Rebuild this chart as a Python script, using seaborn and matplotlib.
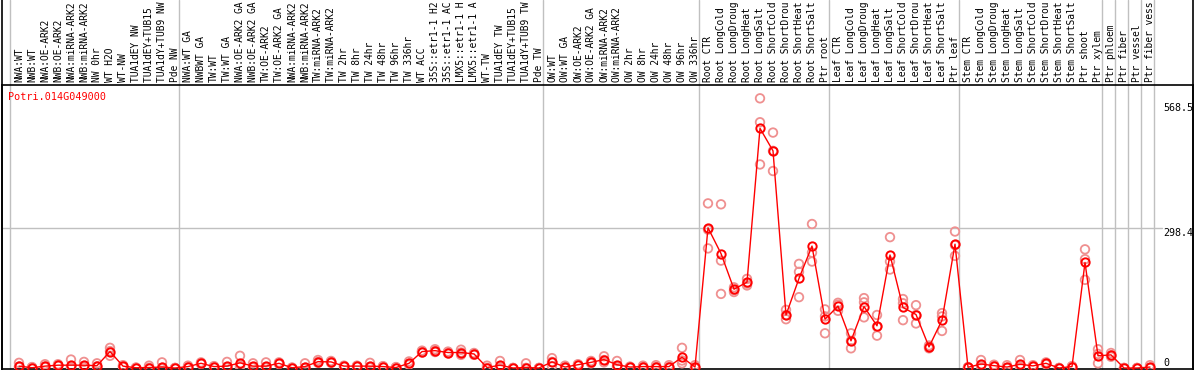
import matplotlib
matplotlib.use("Agg")
import matplotlib.pyplot as plt
from matplotlib.lines import Line2D
import numpy as np
import pandas as pd
import seaborn as sns

# -----------------------------
# Dados
# -----------------------------
gene = "Potri.014G049000"

amostras = [
    "NWA:WT", "NWB:WT", "NWA:OE-ARK2", "NWB:OE-ARK2", "NWA:miRNA-ARK2",
    "NWB:miRNA-ARK2", "NW 0hr", "WT H2O", "WT-NW", "TUA1dEY NW",
    "TUA1dEY+TUB15 ", "TUA1dY+TUB9 NW", "Pde NW",
    "NWA:WT GA", "NWBWT GA", "TW:WT", "TW:WT GA", "NWA:OE-ARK2 GA",
    "NWB:OE-ARK2 GA", "TW:OE-ARK2", "TW:OE-ARK2 GA", "NWA:miRNA-ARK2",
    "NWB:miRNA-ARK2", "TW:miRNA-ARK2", "TW:miRNA-ARK2 ", "TW 2hr", "TW 8hr",
    "TW 24hr", "TW 48hr", "TW 96hr", "TW 336hr", "WT ACC", "35S::etr1-1 H2",
    "35S::etr1-1 AC", "LMX5::etr1-1 H", "LMX5::etr1-1 A", "WT-TW",
    "TUA1dEY TW", "TUA1dEY+TUB15 ", "TUA1dY+TUB9 TW", "Pde TW",
    "OW:WT", "OW:WT GA", "OW:OE-ARK2", "OW:OE-ARK2 GA", "OW:miRNA-ARK2",
    "OW:miRNA-ARK2 ", "OW 2hr", "OW 8hr", "OW 24hr", "OW 48hr", "OW 96hr",
    "OW 336hr",
    "Root CTR", "Root LongCold", "Root LongDroug", "Root LongHeat",
    "Root LongSalt", "Root ShortCold", "Root ShortDrou", "Root ShortHeat",
    "Root ShortSalt", "Ptr root",
    "Leaf CTR", "Leaf LongCold", "Leaf LongDroug", "Leaf LongHeat",
    "Leaf LongSalt", "Leaf ShortCold", "Leaf ShortDrou", "Leaf ShortHeat",
    "Leaf ShortSalt", "Ptr leaf",
    "Stem CTR", "Stem LongCold", "Stem LongDroug", "Stem LongHeat",
    "Stem LongSalt", "Stem ShortCold", "Stem ShortDrou", "Stem ShortHeat",
    "Stem ShortSalt", "Ptr shoot", "Ptr xylem",
    "Ptr phloem", "Ptr fiber", "Ptr vessel", "Ptr fiber vess",
]

# inicio de cada grupo (linhas cinzas verticais)
grupos = [0, 13, 41, 53, 63, 73, 84, 85, 86, 87, 88]

medias = [
    4, 0.5, 4, 6, 6, 6, 5, 35, 4, 0.5, 1, 2, 0,
    3, 10, 3, 4, 11, 4, 4, 10, 0.5, 3, 13.5, 13, 4, 4, 4, 3, 1, 10,
    35, 37, 33, 33, 30, 1, 6, 0, 1, 0,
    13, 2, 7, 12, 18, 7, 2, 3, 3, 3, 23, 2,
    299, 244, 168, 183, 511, 463, 113, 191, 260, 104,
    132, 58, 131, 90, 241, 129, 114, 45, 102, 264,
    1.5, 8.5, 5, 2, 8, 4.5, 10, 0, 3, 225, 26,
    28, 0, 0, 2,
]

replicas = [
    [11, 3, 2], [1, 0, 2], [8, 3, 2], [8, 5, 5], [18, 2, 1], [13, 4, 2],
    [10, 3, 3], [43, 36, 26], [6, 3, 3], [1, 0, 0], [5, 0, 0], [12, 0, 0],
    [0, 0, 0],
    [5, 2, 2], [12, 9, 9], [4, 2, 2], [13, 1, 1], [26, 5, 3], [10, 2, 1],
    [12, 1, 1], [12, 9, 9], [1, 0, 0], [10, 0, 0], [17, 13, 11],
    [15, 13, 11], [5, 4, 3], [5, 4, 3], [11, 2, 1], [4, 3, 2], [2, 1, 0],
    [14, 9, 7], [37, 35, 33], [40, 37, 34], [35, 33, 31], [39, 33, 28],
    [32, 30, 28], [5, 0, 0], [15, 2, 1], [0, 0, 0], [10, 0, 0], [0, 0, 0],
    [21, 13, 4], [5, 1, 0], [8, 7, 6], [15, 11, 10], [25, 17, 12],
    [15, 4, 2], [3, 2, 1], [5, 3, 1], [6, 2, 1], [6, 2, 1], [43, 16, 10],
    [6, 1, 0],
    [351, 255, 295], [349, 229, 158], [172, 166, 162], [190, 180, 176],
    [575, 524, 434], [502, 463, 420], [124, 113, 104], [222, 205, 151],
    [307, 246, 227], [125, 110, 74],
    [139, 135, 122], [74, 58, 42], [149, 140, 108], [113, 88, 69],
    [279, 227, 210], [147, 138, 102], [134, 113, 95], [48, 45, 42],
    [117, 110, 79], [291, 262, 239],
    [2, 1, 1], [17, 5, 4], [7, 4, 4], [6, 0, 0], [17, 4, 3], [6, 4, 3],
    [12, 10, 8], [0, 0, 0], [4, 3, 2], [253, 232, 188], [40, 30, 10],
    [32, 27, 24], [0, 0, 0], [0, 0, 0], [6, 0, 0],
]

y_ticks = [568.5, 298.4, 0]

# -----------------------------
# Figura
# -----------------------------
W, H = 1194, 370
sns.set_style("white")
plt.rcParams["font.family"] = ["DejaVu Sans Mono"]

fig = plt.figure(figsize=(W / 100, H / 100), dpi=100)
# area do grafico: px x 1.5..1193, px y 85..369
ax = fig.add_axes([1.5 / W, 1 / H, (1193 - 1.5) / W, (369 - 85) / H])

px0, dpx = 19, 13          # centro da primeira coluna e largura da coluna
y0, esc = 368, 0.469       # pixel do zero e pixels por unidade
ax.set_xlim((1.5 - px0) / dpx, (1193 - px0) / dpx)
ax.set_ylim(-(369 - y0) / esc, (y0 - 85) / esc)

x = np.arange(len(amostras))
df_rep = pd.DataFrame({
    "x": np.repeat(x, [len(r) for r in replicas]),
    "valor": [v for r in replicas for v in r],
})
df_med = pd.DataFrame({"x": x, "valor": medias})

# linhas cinzas (separadores e grade)
topo = (369 - 0) / (369 - 85)
for b in grupos:
    ax.axvline(b - 9 / 13, ymin=0, ymax=topo, color="#c0c0c0", lw=1,
               clip_on=False, zorder=1)
ax.plot([ax.get_xlim()[0], (1162 - px0) / dpx], [298.4, 298.4],
        color="#c0c0c0", lw=1, zorder=1)

sns.scatterplot(data=df_rep, x="x", y="valor", ax=ax, marker="o", s=38,
                facecolor="none", edgecolor="#ef9090", linewidth=1.3,
                zorder=3)
sns.lineplot(data=df_med, x="x", y="valor", ax=ax, color="#ff0000",
             linewidth=1, marker="o", markersize=6, markerfacecolor="none",
             markeredgecolor="#ff0000", markeredgewidth=1.4, zorder=4)

# rotulos das amostras (verticais, acima da area)
for i, nome in enumerate(amostras):
    ax.text(i, 1.01, nome, transform=ax.get_xaxis_transform(),
            rotation=90, ha="center", va="bottom", fontsize=6.9,
            color="black", clip_on=False)

# valores do eixo y, dentro do grafico a direita
xt = (1163 - px0) / dpx
for v, yb in zip(y_ticks, [548.6, 281.4, 4.3]):
    ax.text(xt, yb, f"{v:g}" if v else "0", ha="left", va="baseline",
            fontsize=7.2, color="black")

ax.text(8 / W, (H - 97) / H, gene, transform=fig.transFigure,
        ha="left", va="center", fontsize=7.3, color="#ff0000")

ax.set_xticks([])
ax.set_yticks([])
ax.set_xlabel("")
ax.set_ylabel("")
for s in ax.spines.values():
    s.set_color("black")
    s.set_linewidth(1.2)

# bordas laterais da figura inteira
fig.add_artist(Line2D([1.5 / W, 1.5 / W], [0, 1], color="black", lw=1.2))
fig.add_artist(Line2D([1193 / W, 1193 / W], [0, 1], color="black", lw=1.2))

fig.savefig("out.png", dpi=100)
